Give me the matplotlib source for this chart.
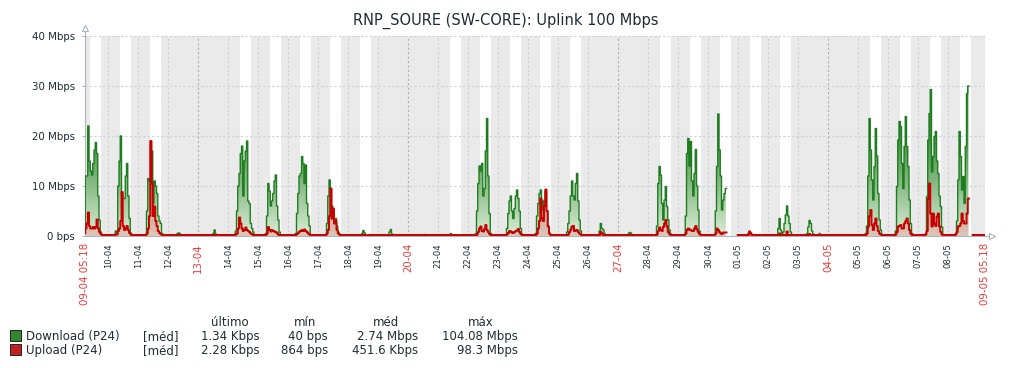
import datetime as dt
import numpy as np
import matplotlib
matplotlib.use("Agg")
import matplotlib.pyplot as plt
from matplotlib.colors import LinearSegmentedColormap
from matplotlib.path import Path
from matplotlib.patches import Rectangle

# ---- data (Mbps, hourly samples) ----
title = "RNP_SOURE (SW-CORE): Uplink 100 Mbps"
first_day = dt.date(2014, 4, 9)
start_hour = 5.3          # 09-04 05:18
span_hours = 720          # 30 days shown
window = list(range(5, 21))   # hours of the day covered by each row below
idle_dl = 0.1
idle_ul = 0.2

download = [
    [1, 12, 12, 22, 15, 13, 12.2, 14.5, 17.2, 18.7, 16.5, 8, 3.2, 0.8, 0.2, 0.1],       # 09-04
    [0.3, 1, 0.5, 10, 15, 20, 8, 7.5, 7.5, 12, 14.5, 8, 3.5, 0.6, 0.2, 0.1],           # 10-04
    [0.1, 0.3, 5, 11.5, 11, 11.5, 17, 6.5, 11, 10, 8.5, 4, 3, 2.5, 0.5, 0.1],          # 11-04
    [0.1, 0.1, 0.4, 0.6, 0.5, 0.3, 0.1, 0.1, 0.1, 0.1, 0.1, 0.1, 0.1, 0.1, 0.1, 0.1],  # 12-04
    [0.1, 0.1, 0.1, 0.1, 0.1, 0.1, 0.1, 0.5, 1.2, 0.4, 0.1, 0.1, 0.1, 0.1, 0.1, 0.1],  # 13-04
    [0.3, 1, 5, 10, 12.5, 16.5, 18, 8, 15, 17, 19, 7, 6.5, 2.5, 1.5, 0.8],             # 14-04
    [0.1, 0.5, 4, 10.5, 9, 6, 7, 8.5, 11, 12.2, 6, 3.2, 0.8, 0.2, 0.1, 0.1],           # 15-04
    [0.1, 0.5, 4.5, 8.5, 12, 12.5, 15.9, 14.5, 10.5, 14.2, 6.5, 4, 2, 0.3, 0.1, 0.1],  # 16-04
    [0.1, 0.3, 2.5, 8, 11.2, 9.5, 6, 4.5, 3.2, 3.5, 2, 0.8, 0.3, 0.1, 0.1, 0.1],       # 17-04
    [0.1, 0.1, 0.1, 0.1, 0.1, 0.1, 0.5, 1.1, 0.6, 0.1, 0.1, 0.1, 0.1, 0.1, 0.1, 0.1],  # 18-04
    [0.1, 0.1, 0.1, 0.1, 0.8, 1.3, 0.4, 0.1, 0.1, 0.1, 0.1, 0.1, 0.1, 0.1, 0.1, 0.1],  # 19-04
    [0.1, 0.1, 0.1, 0.1, 0.1, 0.1, 0.1, 0.1, 0.3, 0.1, 0.1, 0.1, 0.1, 0.1, 0.1, 0.1],  # 20-04
    [0.1, 0.1, 0.1, 0.1, 0.1, 0.5, 0.1, 0.1, 0.1, 0.1, 0.1, 0.1, 0.1, 0.1, 0.1, 0.1],  # 21-04
    [0.1, 0.5, 5, 10.5, 14, 13, 14.5, 8, 9.5, 17, 23.5, 12, 4.5, 0.5, 0.1, 0.1],       # 22-04
    [0.1, 0.3, 1.5, 4.5, 7, 8, 5, 3.5, 5.5, 8, 9.2, 7.5, 5, 1.5, 0.4, 0.1],            # 23-04
    [0.1, 0.5, 4, 6.5, 8.5, 9.2, 7, 5.2, 7.2, 9, 5, 1.5, 0.5, 0.1, 0.1, 0.1],          # 24-04
    [0.1, 0.1, 0.8, 2.5, 5, 8, 11, 8, 7.2, 10.5, 12.5, 7, 3.2, 1, 0.3, 0.1],           # 25-04
    [0.1, 0.1, 0.1, 0.1, 1, 2.5, 1.5, 1.2, 0.5, 0.1, 0.1, 0.1, 0.1, 0.1, 0.1, 0.1],    # 26-04
    [0.1, 0.1, 0.1, 0.4, 0.7, 0.6, 0.3, 0.1, 0.1, 0.1, 0.1, 0.1, 0.1, 0.1, 0.1, 0.1],  # 27-04
    [0.1, 0.3, 2, 10.5, 13.9, 12.2, 6.5, 3.2, 7.2, 9.9, 5.9, 3.2, 1.2, 0.4, 0.1, 0.1], # 28-04
    [0.1, 4, 16.5, 19.5, 14, 18.9, 11, 8, 12.5, 17.3, 10, 5.2, 1, 0.3, 0.1, 0.1],      # 29-04
    [0.1, 5, 13.9, 24.4, 17.2, 12, 5.2, 7.2, 8.5, 9.5, None, None, None, None, None, None],  # 30-04
    [0.1, 0.1, 0.1, 0.5, 0.9, 0.6, 0.1, 0.1, 0.1, 0.1, 0.1, 0.1, 0.1, 0.1, 0.1, 0.1],  # 01-05
    [0.1, 0.1, 0.1, 1.5, 3.5, 1.2, 0.3, 0.8, 2.5, 4.2, 6, 4, 2.5, 0.8, 0.1, 0.1],      # 02-05
    [0.1, 0.1, 0.5, 1.8, 3.1, 2.5, 1, 0.4, 0.1, 0.1, 0.1, 0.1, 0.5, 0.1, 0.1, 0.1],    # 03-05
    [0.1, 0.1, 0.1, 0.1, 0.1, 0.1, 0.1, 0.1, 0.1, 0.1, 0.1, 0.1, 0.1, 0.1, 0.1, 0.1],  # 04-05
    [0.1, 0.5, 2, 12, 23.5, 17.2, 11.2, 7.2, 13.9, 21.5, 16, 8.5, 3.2, 1.2, 0.3, 0.1], # 05-05
    [0.1, 1, 9.9, 19.2, 22.9, 21.9, 14.5, 9.5, 17.9, 23.9, 17.9, 13.9, 7.2, 2.5, 0.5, 0.1],  # 06-05
    [0.1, 0.5, 7.9, 19.2, 24.5, 29.3, 12.8, 15.9, 19.9, 20.9, 15, 12.5, 8, 5.9, 1.8, 0.2],   # 07-05
    [0.1, 0.5, 3, 11.2, 20.9, 15.9, 9.2, 11.9, 6.5, 17.9, 28.5, 30, None, None, None, 0.1],  # 08-05
]

upload = [
    [0.5, 1.5, 2.5, 4.7, 2, 1.5, 1.5, 1.8, 1.5, 1.8, 3.3, 1.5, 0.8, 0.4, 0.2, 0.2],    # 09-04
    [0.2, 0.3, 0.3, 1, 1.5, 3, 8.8, 2, 1.2, 1.5, 2, 1.2, 0.6, 0.3, 0.2, 0.2],          # 10-04
    [0.2, 0.2, 0.5, 1.5, 4, 19, 10.5, 4, 5.9, 3, 2, 1, 0.6, 0.4, 0.2, 0.2],            # 11-04
    [0.2, 0.2, 0.2, 0.2, 0.2, 0.2, 0.2, 0.2, 0.2, 0.2, 0.2, 0.2, 0.2, 0.2, 0.2, 0.2],  # 12-04
    [0.2, 0.2, 0.2, 0.2, 0.2, 0.2, 0.2, 0.2, 0.2, 0.2, 0.2, 0.2, 0.2, 0.2, 0.2, 0.2],  # 13-04
    [0.2, 0.3, 0.5, 1.5, 3.7, 2.5, 1.5, 1, 1.2, 1.7, 1.2, 1, 0.8, 0.5, 0.4, 0.2],      # 14-04
    [0.2, 0.2, 0.5, 1.8, 1.2, 0.9, 1.2, 1, 0.9, 0.8, 0.6, 0.3, 0.2, 0.2, 0.2, 0.2],    # 15-04
    [0.2, 0.2, 0.4, 0.6, 0.9, 1, 1.2, 1, 1.3, 1, 0.8, 0.5, 0.3, 0.2, 0.2, 0.2],        # 16-04
    [0.2, 0.2, 0.5, 1.2, 4, 9.5, 3.5, 5.5, 2.5, 3, 1.2, 0.5, 0.3, 0.2, 0.2, 0.2],      # 17-04
    [0.2, 0.2, 0.2, 0.2, 0.2, 0.2, 0.2, 0.2, 0.2, 0.2, 0.2, 0.2, 0.2, 0.2, 0.2, 0.2],  # 18-04
    [0.2, 0.2, 0.2, 0.2, 0.2, 0.2, 0.2, 0.2, 0.2, 0.2, 0.2, 0.2, 0.2, 0.2, 0.2, 0.2],  # 19-04
    [0.2, 0.2, 0.2, 0.2, 0.2, 0.2, 0.2, 0.2, 0.2, 0.2, 0.2, 0.2, 0.2, 0.2, 0.2, 0.2],  # 20-04
    [0.2, 0.2, 0.2, 0.2, 0.2, 0.2, 0.2, 0.2, 0.2, 0.2, 0.2, 0.2, 0.2, 0.2, 0.2, 0.2],  # 21-04
    [0.2, 0.2, 0.3, 0.8, 1.5, 1.9, 1, 0.9, 1.4, 2.2, 1.2, 0.8, 0.4, 0.2, 0.2, 0.2],    # 22-04
    [0.2, 0.2, 0.3, 0.6, 1, 0.9, 0.7, 0.6, 0.8, 1, 1.1, 1.4, 0.8, 0.4, 0.2, 0.2],      # 23-04
    [0.2, 0.2, 0.5, 1.5, 3, 7.5, 3.5, 3, 6, 9.3, 5, 1.9, 0.5, 0.2, 0.2, 0.2],          # 24-04
    [0.2, 0.2, 0.2, 0.3, 0.8, 1.3, 1.9, 2, 1, 1.1, 1.2, 0.8, 0.5, 0.3, 0.2, 0.2],      # 25-04
    [0.2, 0.2, 0.2, 0.2, 0.2, 0.8, 0.5, 0.2, 0.2, 0.2, 0.2, 0.2, 0.2, 0.2, 0.2, 0.2],  # 26-04
    [0.2, 0.2, 0.2, 0.2, 0.2, 0.2, 0.2, 0.2, 0.2, 0.2, 0.2, 0.2, 0.2, 0.2, 0.2, 0.2],  # 27-04
    [0.2, 0.2, 0.3, 1, 1.7, 1.2, 1, 1.8, 2.5, 3.2, 1.9, 0.8, 0.4, 0.2, 0.2, 0.2],      # 28-04
    [0.2, 0.5, 1.2, 1.5, 1.3, 1.2, 1, 1, 1.5, 2, 1.3, 0.8, 0.4, 0.2, 0.2, 0.2],        # 29-04
    [0.2, 0.5, 1.5, 1.2, 0.8, 0.5, 0.4, 0.7, 0.7, 0.7, None, None, None, None, None, None],  # 30-04
    [0.2, 0.2, 0.2, 0.2, 0.9, 0.5, 0.2, 0.2, 0.2, 0.2, 0.2, 0.2, 0.2, 0.2, 0.2, 0.2],  # 01-05
    [0.2, 0.2, 0.2, 0.2, 0.5, 0.2, 0.2, 0.2, 0.2, 0.2, 0.9, 0.2, 0.2, 0.2, 0.2, 0.2],  # 02-05
    [0.2, 0.2, 0.2, 0.2, 0.4, 0.2, 0.2, 0.2, 0.2, 0.2, 0.2, 0.2, 0.2, 0.2, 0.2, 0.2],  # 03-05
    [0.2, 0.2, 0.2, 0.2, 0.2, 0.2, 0.2, 0.2, 0.2, 0.2, 0.2, 0.2, 0.2, 0.2, 0.2, 0.2],  # 04-05
    [0.2, 0.2, 0.5, 1.9, 4, 5.2, 2.2, 1.2, 2.5, 3.5, 2, 1, 0.5, 0.3, 0.2, 0.2],        # 05-05
    [0.2, 0.3, 0.8, 1.9, 2, 2.2, 1.5, 1.5, 2.5, 3, 3.5, 2.5, 1.2, 0.5, 0.2, 0.2],      # 06-05
    [0.2, 0.3, 1, 7.5, 10.5, 4.5, 1.9, 4.5, 2.5, 2, 3.9, 4.5, 1.9, 0.8, 0.3, 0.2],     # 07-05
    [0.2, 0.3, 0.8, 1.9, 2, 2.5, 4.5, 3, 2.5, 2.5, 4.5, 7.5, None, None, None, 0.2],   # 08-05
]

# missing data: (day index, first hour, end hour)
gaps = [(21, 15, 24), (29, 17, 20)]

legend_names = ["Download (P24)", "Upload (P24)"]
legend_colors = ["#2f8a2f", "#c41e1e"]
stat_headers = ["último", "mín", "méd", "máx"]
stat_download = ["1.34 Kbps", "40 bps", "2.74 Mbps", "104.08 Mbps"]
stat_upload = ["2.28 Kbps", "864 bps", "451.6 Kbps", "98.3 Mbps"]

# ---- build hourly series ----
n_days = len(download)
t = np.arange((n_days + 1) * 24, dtype=float)
dl = np.full(t.size, idle_dl)
ul = np.full(t.size, idle_ul)
for d in range(n_days):
    for h, a, b in zip(window, download[d], upload[d]):
        dl[d * 24 + h] = np.nan if a is None else a
        ul[d * 24 + h] = np.nan if b is None else b
for d, h0, h1 in gaps:
    dl[d * 24 + h0:d * 24 + h1] = np.nan
    ul[d * 24 + h0:d * 24 + h1] = np.nan

W, H = 1016, 368
text_c = "#1f2c33"
axis_c = "#aab4be"
red_c = "#ee3b3b"

fig = plt.figure(figsize=(W / 100, H / 100), dpi=100)
ax = fig.add_axes([85 / W, (H - 236) / H, 900 / W, 200 / H])

# non-working time shading (Mon-Fri 09-18 is white)
for d in range(n_days + 1):
    day = first_day + dt.timedelta(days=d)
    base = d * 24
    spans = [(base, base + 9), (base + 18, base + 24)] if day.weekday() < 5 else [(base, base + 24)]
    for a, b in spans:
        ax.axvspan(a, b, color="#eaeaea", lw=0, zorder=0)

# grid
for v in [10, 20, 30, 40]:
    ax.axhline(v, color="#c9d2da", lw=0.8, ls=(0, (2, 2)), zorder=1)
for d in range(1, n_days):
    day = first_day + dt.timedelta(days=d)
    c = "#a6b2be" if day.weekday() == 6 else "#c9d2da"
    ax.axvline(d * 24, color=c, lw=0.8, ls=(0, (2, 2)), zorder=1)


def gradient_area(x, y, colors, z):
    area = ax.fill_between(x, 0, y, step="mid", color="none", lw=0)
    clip = Path.make_compound_path(*area.get_paths())
    area.remove()
    cmap = LinearSegmentedColormap.from_list("fill", colors)
    img = ax.imshow(np.linspace(0, 1, 256).reshape(-1, 1), cmap=cmap, origin="lower",
                    aspect="auto", extent=[x[0], x[-1], 0, 40],
                    interpolation="bilinear", zorder=z)
    img.set_clip_path(clip, transform=ax.transData)


gradient_area(t, dl, ["#d9ecd5", "#3c8c3c", "#1f7a1f"], 2)
ax.plot(t, dl, drawstyle="steps-mid", color="#1e7d1e", lw=1.0, zorder=3)
gradient_area(t, ul, ["#dcc6b8", "#a84838", "#a03020"], 4)
ax.plot(t, ul, drawstyle="steps-mid", color="#c80000", lw=1.4, zorder=5)

ax.set_xlim(start_hour, start_hour + span_hours)
ax.set_ylim(0, 40)

# axes
for s in ax.spines.values():
    s.set_visible(False)
ax.plot([0, 0], [0, 1.025], transform=ax.transAxes, clip_on=False, color=axis_c, lw=0.8)
ax.plot([0, 1.0035], [0, 0], transform=ax.transAxes, clip_on=False, color=axis_c, lw=0.8)
ax.plot([0], [1.0375], marker="^", ms=5, mfc="white", mec=axis_c, mew=0.8,
        transform=ax.transAxes, clip_on=False)
ax.plot([1.0074], [0], marker=">", ms=5, mfc="white", mec=axis_c, mew=0.8,
        transform=ax.transAxes, clip_on=False)

ax.set_yticks([0, 10, 20, 30, 40])
ax.set_yticklabels(["0 bps", "10 Mbps", "20 Mbps", "30 Mbps", "40 Mbps"])
ax.tick_params(axis="y", length=2.2, color=axis_c, pad=5, labelsize=7.4, labelcolor=text_c)

xt = [start_hour]
xl = ["09-04 05:18"]
xc = [True]
for d in range(1, n_days):
    day = first_day + dt.timedelta(days=d)
    xt.append(d * 24)
    xl.append(day.strftime("%d-%m"))
    xc.append(day.weekday() == 6)
xt.append(start_hour + span_hours)
xl.append("09-05 05:18")
xc.append(True)
ax.set_xticks(xt)
ax.set_xticklabels(xl, rotation=90)
ax.tick_params(axis="x", length=0, pad=5)
for lab, is_red in zip(ax.get_xticklabels(), xc):
    lab.set_color(red_c if is_red else text_c)
    lab.set_fontsize(7.4 if is_red else 6.1)

# title
fig.text(506 / W, 1 - 24.5 / H, title, ha="center", va="baseline", fontsize=10.5, color=text_c)

# legend
def fx(x):
    return x / W


def fy(y):
    return 1 - y / H


header_x = [229.5, 305, 385.5, 480.5]
value_right = [260, 328, 418, 518]
for hx, s in zip(header_x, stat_headers):
    fig.text(fx(hx), fy(326), s, ha="center", va="baseline", fontsize=8.5, color=text_c)

for i, (name, col, stats) in enumerate(zip(legend_names, legend_colors, [stat_download, stat_upload])):
    top = 330 + 14 * i
    fig.add_artist(Rectangle((fx(10), fy(top + 11)), 11 / W, 11 / H, transform=fig.transFigure,
                             facecolor=col, edgecolor="#222222", lw=0.7))
    base = 340 + 14 * i
    fig.text(fx(26), fy(base), name, ha="left", va="baseline", fontsize=8.5, color=text_c)
    fig.text(fx(178.5), fy(base), "[méd]", ha="right", va="baseline", fontsize=8.5, color=text_c)
    for vx, s in zip(value_right, stats):
        fig.text(fx(vx), fy(base), s, ha="right", va="baseline", fontsize=8.5, color=text_c)

fig.savefig("out.png", dpi=100)
